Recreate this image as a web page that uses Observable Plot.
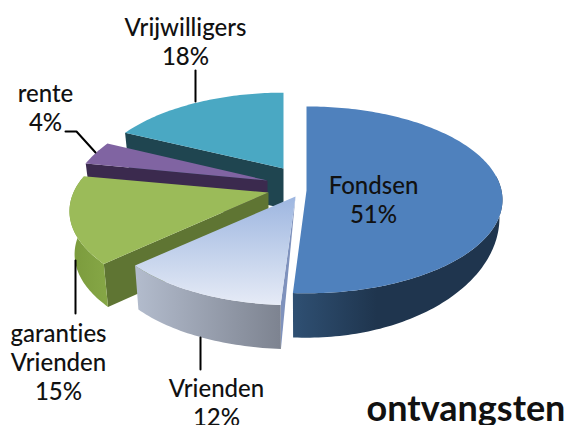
<!DOCTYPE html>
<html><head><meta charset="utf-8">
<script src="https://cdn.jsdelivr.net/npm/d3@7"></script>
<script src="https://cdn.jsdelivr.net/npm/@observablehq/plot@0.6"></script>
<style>html,body{margin:0;padding:0;background:#fff}svg{display:block}svg text{font-variant-ligatures:none}</style>
</head><body><div id="chart"></div>
<script>
const names = ["Fondsen","Vrienden","garanties Vrienden","rente","Vrijwilligers"];
const values = [51,12,15,4,18];
const labels = ["Fondsen\n51%","Vrienden\n12%","garanties\nVrienden\n15%","rente\n4%","Vrijwilligers\n18%"];
const topColors = ["#4f81bd","url(#gV)","#9bbb59","#8064a2","#4aa8c3"];
const rimColors = ["url(#gF)","url(#gR)","url(#gG)","#3b2a4e","#215968"];
const faceColors = ["#25405f","#7f92bd","#5f7533","#3b2a4e","#1f4550"];
// pie layout in the tilted plane: apex, half axes, perspective
const apexX = [306,295,268,267,283];
const apexY = [190,196,192,180,168];
const axisW = [195,190,195,192,190];
const axisH = [92.5,87,90,94,91];
const persp = [0.1,0.2,0.2,0.2,0.2];
// lower plane of the extrusion: offset, half axes
const drop = [15,44,43,36,40];
const lowerW = [192,186,190,187,185];
const lowerH = [119,87,90,94,91];
const labelX = [373,216,58,45,185];
const labelY = [199,402,361,107,41];
const leaders = [[],[[200,337],[200,369]],[[75,260],[75,313]],[[65,131],[76,131],[95,152]],[[195,70],[195,101]]];
const drawOrder = [4,3,2,0,1];
// the rim only faces the viewer on the front half of the pie
const rimFrom = Math.PI*0.45, rimTo = Math.PI*1.55;

const arcs = d3.pie().sort(null).value(d=>d).startAngle(0).endAngle(2*Math.PI)(values);
function pt(i,t,below){
  const den=1+persp[i]*Math.cos(t);
  const w=below?lowerW[i]:axisW[i], h=below?lowerH[i]:axisH[i];
  return {x:apexX[i]+w*Math.sin(t)/den, y:apexY[i]+(below?drop[i]:0)-h*Math.cos(t)/den};
}
function arcPts(i,a,b,below){
  const n=Math.max(2,Math.ceil(Math.abs(b-a)/0.02));
  return d3.range(n+1).map(j=>pt(i,a+(b-a)*j/n,below));
}
const polys=[]; let pid=0;
function add(pts,fill){const id=pid++; pts.forEach(p=>polys.push({x:p.x,y:p.y,id,fill}));}
for(const i of drawOrder){
  const a=arcs[i].startAngle,b=arcs[i].endAngle;
  const apex={x:apexX[i],y:apexY[i]}, apexB={x:apexX[i],y:apexY[i]+drop[i]};
  if(i===1) add([apex,pt(i,a,false),pt(i,a,true)],faceColors[i]);
  else if(i!==0) add([apex,pt(i,a,false),pt(i,a,true),apexB],faceColors[i]);
  const ra=Math.max(a,rimFrom), rb=Math.min(b,rimTo);
  if(rb>ra) add([...arcPts(i,ra,rb,false),...arcPts(i,rb,ra,true)],rimColors[i]);
  add([apex,...arcPts(i,a,b,false)],topColors[i]);
}
const defs=()=>{const s=d3.create("svg:defs");
  const g=(id,x2,y2,stops)=>{const l=s.append("linearGradient").attr("id",id).attr("x1",0).attr("y1",0).attr("x2",x2).attr("y2",y2);
    stops.forEach(([o,c])=>l.append("stop").attr("offset",o).attr("stop-color",c));};
  g("gV",0,1,[[0,"#9db6e0"],[1,"#e6ebf6"]]);
  g("gR",1,0,[[0,"#b3bccd"],[1,"#7d8390"]]);
  g("gF",1,0,[[0,"#2f5073"],[0.4,"#1f354e"],[1,"#1f354e"]]);
  g("gG",1,0,[[0,"#7a9a3c"],[1,"#86a746"]]);
  return s.node();};
const textItems=labels.map((t,i)=>({t,x:labelX[i],y:labelY[i]}));
const leaderPts=leaders.flatMap((l,i)=>l.map(([x,y])=>({x,y,i})));
const chart=Plot.plot({width:569,height:425,margin:0,
  x:{domain:[0,569],range:[0,569],axis:null},
  y:{domain:[0,425],range:[0,425],axis:null},
  color:{type:"identity"},
  marks:[defs,
    Plot.line(polys,{x:"x",y:"y",z:"id",fill:"fill",stroke:"none"}),
    Plot.line(leaderPts,{x:"x",y:"y",z:"i",stroke:"#000",strokeWidth:2}),
    Plot.text(textItems,{x:"x",y:"y",text:"t",fontFamily:"Lato",fontSize:24,fontWeight:500,fill:"#111",lineHeight:1.21,lineAnchor:"middle"}),
    Plot.text(["ontvangsten"],{x:[465.5],y:[409],fontFamily:"Lato",fontSize:36,fontWeight:700,fill:"#111"})
  ]});
document.getElementById("chart").append(chart);
</script></body></html>
